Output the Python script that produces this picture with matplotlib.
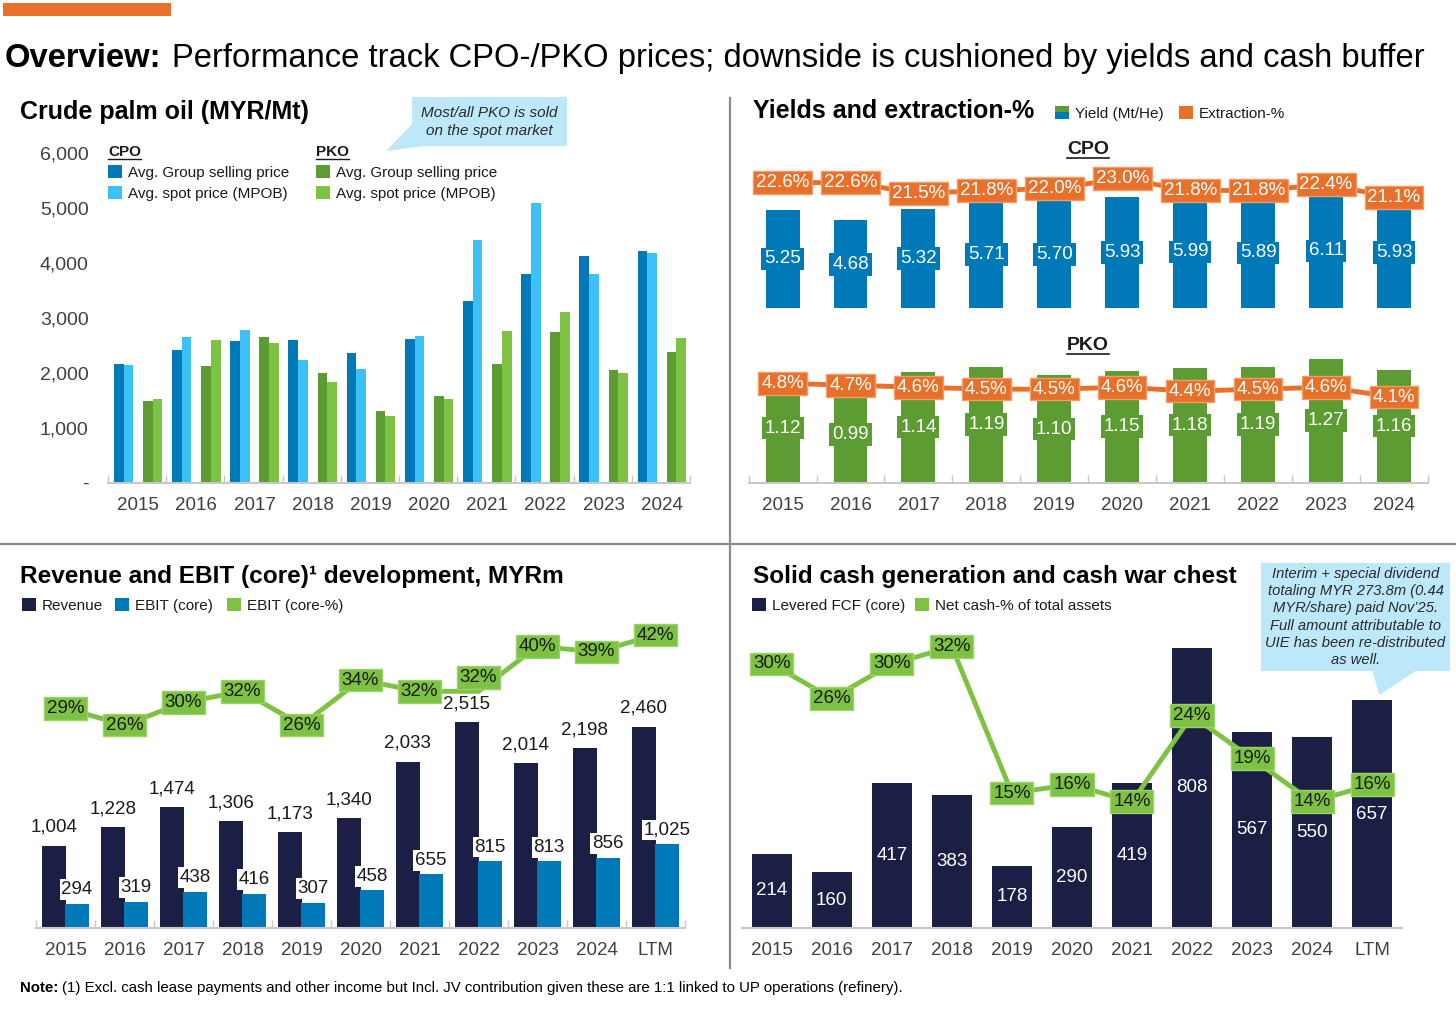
import matplotlib
matplotlib.use('Agg')
import matplotlib.pyplot as plt
from matplotlib.lines import Line2D
from matplotlib.patches import Rectangle, Polygon
import numpy as np

plt.rcParams['font.family'] = ['Liberation Sans', 'DejaVu Sans']

# ---------------- data ----------------
years = ['2015', '2016', '2017', '2018', '2019', '2020', '2021', '2022', '2023', '2024']
periods = years + ['LTM']

# Crude palm oil prices (MYR/Mt)
cpo_group = [2158, 2418, 2570, 2600, 2352, 2612, 3303, 3794, 4127, 4206]
cpo_spot = [2145, 2648, 2776, 2224, 2067, 2673, 4406, 5085, 3800, 4176]
pko_group = [1485, 2127, 2648, 1988, 1303, 1582, 2158, 2739, 2042, 2376]
pko_spot = [1521, 2600, 2533, 1824, 1206, 1521, 2764, 3109, 2000, 2636]

# Yields (Mt/He) and extraction-%
cpo_yield = [5.25, 4.68, 5.32, 5.71, 5.70, 5.93, 5.99, 5.89, 6.11, 5.93]
cpo_extr = [22.6, 22.6, 21.5, 21.8, 22.0, 23.0, 21.8, 21.8, 22.4, 21.1]
pko_yield = [1.12, 0.99, 1.14, 1.19, 1.10, 1.15, 1.18, 1.19, 1.27, 1.16]
pko_extr = [4.8, 4.7, 4.6, 4.5, 4.5, 4.6, 4.4, 4.5, 4.6, 4.1]

# Revenue and EBIT (MYRm)
revenue = [1004, 1228, 1474, 1306, 1173, 1340, 2033, 2515, 2014, 2198, 2460]
ebit = [294, 319, 438, 416, 307, 458, 655, 815, 813, 856, 1025]
ebit_pct = [29, 26, 30, 32, 26, 34, 32, 32, 40, 39, 42]

# Cash generation
fcf = [214, 160, 417, 383, 178, 290, 419, 808, 567, 550, 657]
net_cash_pct = [30, 26, 30, 32, 15, 16, 14, 24, 19, 14, 16]

# colours
NAVY = '#1B1F45'
BLUE = '#0079B8'
LBLUE = '#3CC1F7'
DGREEN = '#5C9C33'
LGREEN = '#7DC242'
ORANGE = '#E8702A'
CALLOUT = '#BDE8FA'
TICKC = '#404040'
TXT = '#1A1A1A'
BASE = '#C8C8C8'
DIVIDER = '#8A8A8A'

W, H = 1456, 1013
fig = plt.figure(figsize=(W / 100, H / 100), dpi=100)


def fx(px):
    return px / W


def fy(py):
    return 1 - py / H


def add_ax(left, top, right, bottom):
    return fig.add_axes([fx(left), fy(bottom), (right - left) / W, (bottom - top) / H])


def ftext(px, py, s, **kw):
    return fig.text(fx(px), fy(py), s, **kw)


def fline(xs, ys, **kw):
    fig.add_artist(Line2D([fx(x) for x in xs], [fy(y) for y in ys],
                          transform=fig.transFigure, **kw))


def frect(left, top, right, bottom, color):
    fig.add_artist(Rectangle((fx(left), fy(bottom)), (right - left) / W, (bottom - top) / H,
                             transform=fig.transFigure, facecolor=color, edgecolor='none'))


def fpoly(points, color):
    fig.add_artist(Polygon([(fx(x), fy(y)) for x, y in points], closed=True,
                           transform=fig.transFigure, facecolor=color, edgecolor='none'))


def line_limits(p_bottom, p_top, v_ref, p_ref, px_per_unit):
    # y-limits for a twin axis so that v_ref sits at pixel row p_ref
    return (v_ref - (p_bottom - p_ref) / px_per_unit, v_ref + (p_ref - p_top) / px_per_unit)


def style_base(ax, minor_ticks=True):
    for s in ['top', 'right', 'left']:
        ax.spines[s].set_visible(False)
    ax.spines['bottom'].set_color(BASE)
    ax.spines['bottom'].set_linewidth(1.5)
    ax.set_yticks([])
    ax.tick_params(axis='x', which='major', length=0, labelsize=13.5, labelcolor=TICKC, pad=10)
    ax.tick_params(axis='x', which='minor', direction='in', length=6 if minor_ticks else 0,
                   color=BASE, width=1)
    ax.patch.set_visible(False)


def hide(ax):
    ax.axis('off')


def box_label(ax, x, y, s, fc, tc, ec='none', dy=0):
    ax.annotate(s, (x, y), xytext=(0, dy), textcoords='offset points',
                ha='center', va='center', fontsize=13.5, color=tc, zorder=5,
                bbox=dict(boxstyle='square,pad=0.15', fc=fc, ec=ec, lw=1))


def legend_item(px, py, color, label, size=11):
    frect(px, py - 6.5, px + 14, py + 6.5, color)
    ftext(px + 20, py, label, fontsize=size, color=TXT, va='center_baseline')


# ---------------- titles ----------------
frect(3, 3, 171, 16.5, ORANGE)
renderer = fig.canvas.get_renderer()
t = ftext(5, 67, 'Overview:', fontsize=23.6, fontweight='bold', color='black', va='baseline')
bb = t.get_window_extent(renderer=renderer)
ftext(bb.x1 + 10, 67, 'Performance track CPO-/PKO prices; downside is cushioned by yields and cash buffer',
      fontsize=23.6, color='black', va='baseline')

t = ftext(20, 992, 'Note:', fontsize=10.8, fontweight='bold', color='black', va='baseline')
bb = t.get_window_extent(renderer=renderer)
ftext(bb.x1 + 4, 992, '(1) Excl. cash lease payments and other income but Incl. JV contribution '
      'given these are 1:1 linked to UP operations (refinery).',
      fontsize=10.8, color='black', va='baseline')

# dividers
fline([729.5, 729.5], [98, 968], color=DIVIDER, lw=1.6)
fline([0, 1456], [544, 544], color=DIVIDER, lw=1.6)

# ---------------- top-left: crude palm oil prices ----------------
ftext(20, 112, 'Crude palm oil (MYR/Mt)', fontsize=18, fontweight='bold', color='black', va='center')

ax1 = add_ax(108, 152.7, 690, 482.7)
grp = np.arange(len(years)) * 6
ax1.bar(grp + 0, cpo_group, width=1, align='edge', color=BLUE)
ax1.bar(grp + 1, cpo_spot, width=1, align='edge', color=LBLUE)
ax1.bar(grp + 3, pko_group, width=1, align='edge', color=DGREEN)
ax1.bar(grp + 4, pko_spot, width=1, align='edge', color=LGREEN)
ax1.set_xlim(-0.6, 59.4)
ax1.set_ylim(0, 6000)
ax1.set_xticks(grp + 2.5, years)
ax1.set_xticks(np.arange(len(years) + 1) * 6 - 0.6, minor=True)
style_base(ax1)
yt = list(range(0, 6001, 1000))
ax1.set_yticks(yt, ['-'] + [f'{v:,}' for v in yt[1:]])
ax1.tick_params(axis='y', length=0, labelsize=14, labelcolor=TICKC, pad=14)

# legend
for px, head in [(108, 'CPO'), (316, 'PKO')]:
    t = ftext(px, 152, head, fontsize=11, fontweight='bold', color=TXT, va='center')
    bb = t.get_window_extent(renderer=renderer)
    fline([px, px + bb.width], [159, 159], color=TXT, lw=1)
legend_item(108, 171.5, BLUE, 'Avg. Group selling price')
legend_item(108, 192.5, LBLUE, 'Avg. spot price (MPOB)')
legend_item(316, 171.5, DGREEN, 'Avg. Group selling price')
legend_item(316, 192.5, LGREEN, 'Avg. spot price (MPOB)')

# callout
fpoly([(412, 124), (386, 151), (426, 146)], CALLOUT)
frect(412, 97, 567, 146, CALLOUT)
ftext(489.5, 122, 'Most/all PKO is sold\non the spot market', fontsize=11, style='italic',
      color='#2A2A2A', ha='center', va='center', linespacing=1.3)

# ---------------- top-right: yields and extraction ----------------
ftext(753, 111, 'Yields and extraction-%', fontsize=18, fontweight='bold', color='black', va='center')
frect(1055, 106, 1069, 112.5, DGREEN)
frect(1055, 112.5, 1069, 119, BLUE)
ftext(1075, 112.5, 'Yield (Mt/He)', fontsize=11, color=TXT, va='center_baseline')
legend_item(1179, 112.5, ORANGE, 'Extraction-%')

x10 = np.arange(len(years))
for py, head in [(149, 'CPO'), (345, 'PKO')]:
    t = ftext(1088, py, head, fontsize=14, fontweight='bold', color=TXT, ha='center', va='center')
    bb = t.get_window_extent(renderer=renderer)
    fline([bb.x0, bb.x1], [py + 9.5, py + 9.5], color=TXT, lw=1.2)

ax_c = add_ax(748.6, 140, 1428, 308)
ax_c.bar(x10, cpo_yield, width=0.5, color=BLUE)
ax_c.set_xlim(-0.5, 9.5)
ax_c.set_ylim(0, 168 / 18.7)
hide(ax_c)
for i, v in enumerate(cpo_yield):
    box_label(ax_c, i, v / 2, f'{v:.2f}', BLUE, 'white')
axc_t = ax_c.twinx()
axc_t.set_ylim(*line_limits(308, 140, 23.0, 178.7, 9.8))
axc_t.plot(x10, cpo_extr, color=ORANGE, lw=3.5, zorder=2)
hide(axc_t)
for i, v in enumerate(cpo_extr):
    box_label(axc_t, i, v, f'{v:.1f}%', ORANGE, 'white', ec='#F29C68')

ax_p = add_ax(748.6, 330, 1428, 482.7)
ax_p.bar(x10, pko_yield, width=0.5, color=DGREEN)
ax_p.set_xlim(-0.5, 9.5)
ax_p.set_ylim(0, 152.7 / 97.5)
ax_p.set_xticks(x10, years)
ax_p.set_xticks(np.arange(len(years) + 1) - 0.5, minor=True)
style_base(ax_p)
for i, v in enumerate(pko_yield):
    box_label(ax_p, i, v / 2, f'{v:.2f}', DGREEN, 'white')
axp_t = ax_p.twinx()
axp_t.set_ylim(*line_limits(482.7, 330, 4.8, 383.3, 19.6))
axp_t.plot(x10, pko_extr, color=ORANGE, lw=3.5, zorder=2)
hide(axp_t)
for i, v in enumerate(pko_extr):
    box_label(axp_t, i, v, f'{v:.1f}%', ORANGE, 'white', ec='#F29C68')

# ---------------- bottom-left: revenue and EBIT ----------------
ftext(20, 576, 'Revenue and EBIT (core)\u00b9 development, MYRm', fontsize=17.6,
      fontweight='bold', color='black', va='center')
legend_item(22, 604, NAVY, 'Revenue')
legend_item(115, 604, BLUE, 'EBIT (core)')
legend_item(227, 604, LGREEN, 'EBIT (core-%)')

x11 = np.arange(len(periods))
off, bw = 0.197, 0.395
ax3 = add_ax(36, 620, 685, 927.7)
ax3.bar(x11 - off, revenue, width=bw, color=NAVY)
ax3.bar(x11 + off, ebit, width=bw, color=BLUE)
ax3.set_xlim(-0.5, 10.5)
ax3.set_ylim(0, 307.7 / 0.0817)
ax3.set_xticks(x11, periods)
ax3.set_xticks(np.arange(len(periods) + 1) - 0.5, minor=True)
style_base(ax3)
for i, v in enumerate(revenue):
    ax3.annotate(f'{v:,}', (i - off, v), xytext=(0, 7), textcoords='offset points',
                 ha='center', va='bottom', fontsize=13.5, color=TXT)
for i, v in enumerate(ebit):
    ax3.annotate(f'{v:,}', (i + off, v), xytext=(0, 4), textcoords='offset points',
                 ha='center', va='bottom', fontsize=13.5, color=TXT,
                 bbox=dict(boxstyle='square,pad=0.1', fc='white', ec='none'))
ax3t = ax3.twinx()
ax3t.set_ylim(*line_limits(927.7, 620, 42, 635, 5.63))
ax3t.plot(x11, ebit_pct, color=LGREEN, lw=3.5, zorder=2)
hide(ax3t)
for i, v in enumerate(ebit_pct):
    box_label(ax3t, i, v, f'{v}%', LGREEN, TXT, ec='#9AD26A', dy=10 if periods[i] == '2022' else 0)

# ---------------- bottom-right: cash generation ----------------
ftext(753, 576, 'Solid cash generation and cash war chest', fontsize=17.5,
      fontweight='bold', color='black', va='center')
legend_item(752, 604, NAVY, 'Levered FCF (core)')
legend_item(915, 604, LGREEN, 'Net cash-% of total assets')

ax4 = add_ax(741.7, 620, 1402.2, 927.7)
ax4.bar(x11, fcf, width=0.66, color=NAVY)
ax4.set_xlim(-0.5, 10.5)
ax4.set_ylim(0, 307.7 / 0.346)
ax4.set_xticks(x11, periods)
style_base(ax4, minor_ticks=False)
for i, v in enumerate(fcf):
    ax4.text(i, v / 2, f'{v}', ha='center', va='center', fontsize=13.5, color='white')
ax4t = ax4.twinx()
ax4t.set_ylim(*line_limits(927.7, 620, 14, 801.7, 8.61))
ax4t.plot(x11, net_cash_pct, color=LGREEN, lw=3.5, zorder=2)
hide(ax4t)
for i, v in enumerate(net_cash_pct):
    box_label(ax4t, i, v, f'{v}%', LGREEN, TXT, ec='#9AD26A')

# callout
fpoly([(1372, 670), (1379.5, 695), (1417, 670)], CALLOUT)
frect(1260.7, 563, 1450, 670.7, CALLOUT)
ftext(1355.5, 617, 'Interim + special dividend\ntotaling MYR 273.8m (0.44\nMYR/share) paid Nov\u201925.\n'
      'Full amount attributable to\nUIE has been re-distributed\nas well.',
      fontsize=10.6, style='italic', color='#2A2A2A', ha='center', va='center', linespacing=1.3)

fig.savefig('out.png', dpi=100)
